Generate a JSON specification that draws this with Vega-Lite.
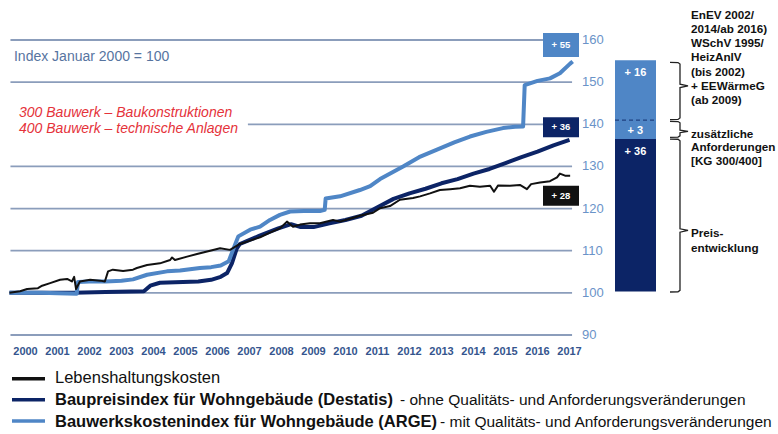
{
  "$schema": "https://vega.github.io/schema/vega-lite/v6.json",
  "width": 778,
  "height": 434,
  "autosize": {"type": "none"},
  "padding": 0,
  "background": "white",
  "config": {"view": {"stroke": null}, "font": "Liberation Sans"},
  "datasets": {
    "series": [
      {"s": "Baupreisindex", "year": 2000.0, "value": 100.0},
      {"s": "Baupreisindex", "year": 2001.0, "value": 100.0},
      {"s": "Baupreisindex", "year": 2002.0, "value": 100.0},
      {"s": "Baupreisindex", "year": 2003.0, "value": 100.2},
      {"s": "Baupreisindex", "year": 2004.2, "value": 100.4},
      {"s": "Baupreisindex", "year": 2004.4, "value": 101.7},
      {"s": "Baupreisindex", "year": 2004.7, "value": 102.4},
      {"s": "Baupreisindex", "year": 2005.9, "value": 102.7},
      {"s": "Baupreisindex", "year": 2006.3, "value": 103.1},
      {"s": "Baupreisindex", "year": 2006.6, "value": 103.8},
      {"s": "Baupreisindex", "year": 2006.8, "value": 104.7},
      {"s": "Baupreisindex", "year": 2006.95, "value": 107.0},
      {"s": "Baupreisindex", "year": 2007.1, "value": 110.5},
      {"s": "Baupreisindex", "year": 2007.2, "value": 111.6},
      {"s": "Baupreisindex", "year": 2007.8, "value": 113.5},
      {"s": "Baupreisindex", "year": 2008.4, "value": 115.3},
      {"s": "Baupreisindex", "year": 2008.8, "value": 116.3},
      {"s": "Baupreisindex", "year": 2009.1, "value": 115.6},
      {"s": "Baupreisindex", "year": 2009.5, "value": 115.6},
      {"s": "Baupreisindex", "year": 2010.0, "value": 116.5},
      {"s": "Baupreisindex", "year": 2010.5, "value": 117.3},
      {"s": "Baupreisindex", "year": 2011.0, "value": 118.3},
      {"s": "Baupreisindex", "year": 2011.5, "value": 120.3},
      {"s": "Baupreisindex", "year": 2012.0, "value": 122.3},
      {"s": "Baupreisindex", "year": 2012.5, "value": 123.6},
      {"s": "Baupreisindex", "year": 2013.0, "value": 124.7},
      {"s": "Baupreisindex", "year": 2013.5, "value": 126.0},
      {"s": "Baupreisindex", "year": 2014.0, "value": 127.0},
      {"s": "Baupreisindex", "year": 2014.5, "value": 128.3},
      {"s": "Baupreisindex", "year": 2015.0, "value": 129.4},
      {"s": "Baupreisindex", "year": 2015.5, "value": 130.8},
      {"s": "Baupreisindex", "year": 2016.0, "value": 132.2},
      {"s": "Baupreisindex", "year": 2016.5, "value": 133.5},
      {"s": "Baupreisindex", "year": 2017.0, "value": 135.0},
      {"s": "Baupreisindex", "year": 2017.5, "value": 136.3},
      {"s": "Bauwerkskostenindex", "year": 2000.0, "value": 100.0},
      {"s": "Bauwerkskostenindex", "year": 2001.0, "value": 100.0},
      {"s": "Bauwerkskostenindex", "year": 2001.5, "value": 99.9},
      {"s": "Bauwerkskostenindex", "year": 2002.1, "value": 99.8},
      {"s": "Bauwerkskostenindex", "year": 2002.14, "value": 102.6},
      {"s": "Bauwerkskostenindex", "year": 2002.5, "value": 102.7},
      {"s": "Bauwerkskostenindex", "year": 2003.0, "value": 102.7},
      {"s": "Bauwerkskostenindex", "year": 2003.5, "value": 102.9},
      {"s": "Bauwerkskostenindex", "year": 2003.86, "value": 103.2},
      {"s": "Bauwerkskostenindex", "year": 2004.3, "value": 104.3},
      {"s": "Bauwerkskostenindex", "year": 2004.92, "value": 105.1},
      {"s": "Bauwerkskostenindex", "year": 2005.33, "value": 105.3},
      {"s": "Bauwerkskostenindex", "year": 2005.95, "value": 105.9},
      {"s": "Bauwerkskostenindex", "year": 2006.3, "value": 106.1},
      {"s": "Bauwerkskostenindex", "year": 2006.6, "value": 106.5},
      {"s": "Bauwerkskostenindex", "year": 2006.85, "value": 107.5},
      {"s": "Bauwerkskostenindex", "year": 2007.0, "value": 110.5},
      {"s": "Bauwerkskostenindex", "year": 2007.15, "value": 113.4},
      {"s": "Bauwerkskostenindex", "year": 2007.52, "value": 115.0},
      {"s": "Bauwerkskostenindex", "year": 2007.83, "value": 115.7},
      {"s": "Bauwerkskostenindex", "year": 2008.14, "value": 117.3},
      {"s": "Bauwerkskostenindex", "year": 2008.45, "value": 118.5},
      {"s": "Bauwerkskostenindex", "year": 2008.77, "value": 119.3},
      {"s": "Bauwerkskostenindex", "year": 2009.2, "value": 119.4},
      {"s": "Bauwerkskostenindex", "year": 2009.7, "value": 119.4},
      {"s": "Bauwerkskostenindex", "year": 2009.85, "value": 119.7},
      {"s": "Bauwerkskostenindex", "year": 2009.88, "value": 122.4},
      {"s": "Bauwerkskostenindex", "year": 2010.33, "value": 122.9},
      {"s": "Bauwerkskostenindex", "year": 2010.95, "value": 124.4},
      {"s": "Bauwerkskostenindex", "year": 2011.27, "value": 125.3},
      {"s": "Bauwerkskostenindex", "year": 2011.58, "value": 127.0},
      {"s": "Bauwerkskostenindex", "year": 2012.3, "value": 130.0},
      {"s": "Bauwerkskostenindex", "year": 2012.8, "value": 132.2},
      {"s": "Bauwerkskostenindex", "year": 2013.36, "value": 134.0},
      {"s": "Bauwerkskostenindex", "year": 2013.9, "value": 135.7},
      {"s": "Bauwerkskostenindex", "year": 2014.39, "value": 137.1},
      {"s": "Bauwerkskostenindex", "year": 2014.9, "value": 138.2},
      {"s": "Bauwerkskostenindex", "year": 2015.42, "value": 139.1},
      {"s": "Bauwerkskostenindex", "year": 2015.8, "value": 139.4},
      {"s": "Bauwerkskostenindex", "year": 2016.05, "value": 139.5},
      {"s": "Bauwerkskostenindex", "year": 2016.1, "value": 149.3},
      {"s": "Bauwerkskostenindex", "year": 2016.5, "value": 150.3},
      {"s": "Bauwerkskostenindex", "year": 2016.89, "value": 150.9},
      {"s": "Bauwerkskostenindex", "year": 2017.2, "value": 152.1},
      {"s": "Bauwerkskostenindex", "year": 2017.52, "value": 154.4},
      {"s": "Bauwerkskostenindex", "year": 2017.6, "value": 154.9},
      {"s": "Lebenshaltungskosten", "year": 2000.0, "value": 100.0},
      {"s": "Lebenshaltungskosten", "year": 2000.33, "value": 100.4},
      {"s": "Lebenshaltungskosten", "year": 2000.55, "value": 100.9},
      {"s": "Lebenshaltungskosten", "year": 2000.89, "value": 101.1},
      {"s": "Lebenshaltungskosten", "year": 2001.02, "value": 101.7},
      {"s": "Lebenshaltungskosten", "year": 2001.27, "value": 102.3},
      {"s": "Lebenshaltungskosten", "year": 2001.58, "value": 103.1},
      {"s": "Lebenshaltungskosten", "year": 2001.8, "value": 103.3},
      {"s": "Lebenshaltungskosten", "year": 2001.95, "value": 102.7},
      {"s": "Lebenshaltungskosten", "year": 2002.02, "value": 103.8},
      {"s": "Lebenshaltungskosten", "year": 2002.08, "value": 100.9},
      {"s": "Lebenshaltungskosten", "year": 2002.2, "value": 102.7},
      {"s": "Lebenshaltungskosten", "year": 2002.52, "value": 103.1},
      {"s": "Lebenshaltungskosten", "year": 2002.83, "value": 102.9},
      {"s": "Lebenshaltungskosten", "year": 2002.98, "value": 102.7},
      {"s": "Lebenshaltungskosten", "year": 2003.08, "value": 105.1},
      {"s": "Lebenshaltungskosten", "year": 2003.23, "value": 105.5},
      {"s": "Lebenshaltungskosten", "year": 2003.55, "value": 105.2},
      {"s": "Lebenshaltungskosten", "year": 2003.86, "value": 105.5},
      {"s": "Lebenshaltungskosten", "year": 2003.98, "value": 105.9},
      {"s": "Lebenshaltungskosten", "year": 2004.3, "value": 106.6},
      {"s": "Lebenshaltungskosten", "year": 2004.7, "value": 107.0},
      {"s": "Lebenshaltungskosten", "year": 2005.02, "value": 107.8},
      {"s": "Lebenshaltungskosten", "year": 2005.08, "value": 108.4},
      {"s": "Lebenshaltungskosten", "year": 2005.17, "value": 107.8},
      {"s": "Lebenshaltungskosten", "year": 2005.55, "value": 108.6},
      {"s": "Lebenshaltungskosten", "year": 2005.86, "value": 109.2},
      {"s": "Lebenshaltungskosten", "year": 2006.27, "value": 110.0},
      {"s": "Lebenshaltungskosten", "year": 2006.58, "value": 110.6},
      {"s": "Lebenshaltungskosten", "year": 2006.89, "value": 110.2},
      {"s": "Lebenshaltungskosten", "year": 2007.2, "value": 111.6},
      {"s": "Lebenshaltungskosten", "year": 2007.52, "value": 112.4},
      {"s": "Lebenshaltungskosten", "year": 2007.83, "value": 113.2},
      {"s": "Lebenshaltungskosten", "year": 2008.14, "value": 114.3},
      {"s": "Lebenshaltungskosten", "year": 2008.45, "value": 115.3},
      {"s": "Lebenshaltungskosten", "year": 2008.67, "value": 116.9},
      {"s": "Lebenshaltungskosten", "year": 2008.86, "value": 115.7},
      {"s": "Lebenshaltungskosten", "year": 2009.08, "value": 116.2},
      {"s": "Lebenshaltungskosten", "year": 2009.39, "value": 116.5},
      {"s": "Lebenshaltungskosten", "year": 2009.7, "value": 116.5},
      {"s": "Lebenshaltungskosten", "year": 2010.11, "value": 117.3},
      {"s": "Lebenshaltungskosten", "year": 2010.33, "value": 116.9},
      {"s": "Lebenshaltungskosten", "year": 2010.64, "value": 117.6},
      {"s": "Lebenshaltungskosten", "year": 2010.95, "value": 118.3},
      {"s": "Lebenshaltungskosten", "year": 2011.36, "value": 119.0},
      {"s": "Lebenshaltungskosten", "year": 2011.58, "value": 120.1},
      {"s": "Lebenshaltungskosten", "year": 2011.89, "value": 120.6},
      {"s": "Lebenshaltungskosten", "year": 2012.2, "value": 122.1},
      {"s": "Lebenshaltungskosten", "year": 2012.61, "value": 122.5},
      {"s": "Lebenshaltungskosten", "year": 2012.83, "value": 122.9},
      {"s": "Lebenshaltungskosten", "year": 2013.14, "value": 123.6},
      {"s": "Lebenshaltungskosten", "year": 2013.45, "value": 124.4},
      {"s": "Lebenshaltungskosten", "year": 2013.77, "value": 124.6},
      {"s": "Lebenshaltungskosten", "year": 2014.08, "value": 124.8},
      {"s": "Lebenshaltungskosten", "year": 2014.39, "value": 125.4},
      {"s": "Lebenshaltungskosten", "year": 2014.7, "value": 125.2},
      {"s": "Lebenshaltungskosten", "year": 2015.02, "value": 125.4},
      {"s": "Lebenshaltungskosten", "year": 2015.14, "value": 124.0},
      {"s": "Lebenshaltungskosten", "year": 2015.27, "value": 125.5},
      {"s": "Lebenshaltungskosten", "year": 2015.64, "value": 125.4},
      {"s": "Lebenshaltungskosten", "year": 2015.95, "value": 125.6},
      {"s": "Lebenshaltungskosten", "year": 2016.17, "value": 124.6},
      {"s": "Lebenshaltungskosten", "year": 2016.3, "value": 125.8},
      {"s": "Lebenshaltungskosten", "year": 2016.58, "value": 126.2},
      {"s": "Lebenshaltungskosten", "year": 2016.89, "value": 126.5},
      {"s": "Lebenshaltungskosten", "year": 2017.11, "value": 127.4},
      {"s": "Lebenshaltungskosten", "year": 2017.2, "value": 128.3},
      {"s": "Lebenshaltungskosten", "year": 2017.36, "value": 127.8},
      {"s": "Lebenshaltungskosten", "year": 2017.52, "value": 127.8}
    ],
    "grid": [
      {"value": 90, "year": 2000.03, "year2": 2017.58}, {"value": 100, "year": 2000.03, "year2": 2017.58},
      {"value": 110, "year": 2000.03, "year2": 2017.58}, {"value": 120, "year": 2000.03, "year2": 2017.58},
      {"value": 130, "year": 2000.03, "year2": 2017.58}, {"value": 140, "year": 2007.45, "year2": 2017.58},
      {"value": 150, "year": 2000.03, "year2": 2017.58}, {"value": 160, "year": 2000.03, "year2": 2017.58}
    ],
    "ylabels": [
      {"label": "90", "value": 90, "year": 2017.891}, {"label": "100", "value": 100, "year": 2017.891},
      {"label": "110", "value": 110, "year": 2017.891}, {"label": "120", "value": 120, "year": 2017.891},
      {"label": "130", "value": 130, "year": 2017.891}, {"label": "140", "value": 140, "year": 2017.891},
      {"label": "150", "value": 150, "year": 2017.891}, {"label": "160", "value": 160, "year": 2017.891}
    ],
    "xlabels": [
      {"label": "2000", "year": 2000.5, "value": 86.0}, {"label": "2001", "year": 2001.5, "value": 86.0},
      {"label": "2002", "year": 2002.5, "value": 86.0}, {"label": "2003", "year": 2003.5, "value": 86.0},
      {"label": "2004", "year": 2004.5, "value": 86.0}, {"label": "2005", "year": 2005.5, "value": 86.0},
      {"label": "2006", "year": 2006.5, "value": 86.0}, {"label": "2007", "year": 2007.5, "value": 86.0},
      {"label": "2008", "year": 2008.5, "value": 86.0}, {"label": "2009", "year": 2009.5, "value": 86.0},
      {"label": "2010", "year": 2010.5, "value": 86.0}, {"label": "2011", "year": 2011.5, "value": 86.0},
      {"label": "2012", "year": 2012.5, "value": 86.0}, {"label": "2013", "year": 2013.5, "value": 86.0},
      {"label": "2014", "year": 2014.5, "value": 86.0}, {"label": "2015", "year": 2015.5, "value": 86.0},
      {"label": "2016", "year": 2016.5, "value": 86.0}, {"label": "2017", "year": 2017.5, "value": 86.0}
    ],
    "boxes": [
      {"s": "Bauwerkskostenindex", "year": 2016.672, "year2": 2017.797, "value": 155.97, "value2": 161.66},
      {"s": "Baupreisindex", "year": 2016.672, "year2": 2017.797, "value": 136.92, "value2": 141.66},
      {"s": "Lebenshaltungskosten", "year": 2016.672, "year2": 2017.797, "value": 120.65, "value2": 125.39}
    ],
    "boxlabels": [
      {"label": "+ 55", "year": 2017.234, "value": 158.8},
      {"label": "+ 36", "year": 2017.234, "value": 139.3},
      {"label": "+ 28", "year": 2017.234, "value": 123.0}
    ],
    "bar": [
      {"s": "Baupreisindex", "year": 2018.922, "year2": 2020.203, "value": 100.3, "value2": 136.5},
      {"s": "Bauwerkskostenindex", "year": 2018.922, "year2": 2020.203, "value": 136.5, "value2": 155.2}
    ],
    "bardash": [
      {"year": 2018.922, "year2": 2020.203, "value": 141.0}
    ],
    "barlabels": [
      {"label": "+ 16", "year": 2019.56, "value": 152.2},
      {"label": "+ 3", "year": 2019.56, "value": 138.4},
      {"label": "+ 36", "year": 2019.56, "value": 133.5}
    ],
    "braces": [
      {"b": 1, "o": 1, "year": 2020.641, "value": 154.7},
      {"b": 1, "o": 2, "year": 2020.891, "value": 154.65},
      {"b": 1, "o": 3, "year": 2020.953, "value": 154.3},
      {"b": 1, "o": 4, "year": 2020.953, "value": 149.5},
      {"b": 1, "o": 5, "year": 2021.203, "value": 149.1},
      {"b": 1, "o": 6, "year": 2020.953, "value": 148.7},
      {"b": 1, "o": 7, "year": 2020.953, "value": 141.5},
      {"b": 1, "o": 8, "year": 2020.891, "value": 141.15},
      {"b": 1, "o": 9, "year": 2020.641, "value": 141.1},
      {"b": 2, "o": 1, "year": 2020.641, "value": 140.7},
      {"b": 2, "o": 2, "year": 2020.891, "value": 140.65},
      {"b": 2, "o": 3, "year": 2020.953, "value": 140.35},
      {"b": 2, "o": 4, "year": 2020.953, "value": 138.6},
      {"b": 2, "o": 5, "year": 2021.203, "value": 138.3},
      {"b": 2, "o": 6, "year": 2020.953, "value": 138.0},
      {"b": 2, "o": 7, "year": 2020.953, "value": 137.25},
      {"b": 2, "o": 8, "year": 2020.891, "value": 136.95},
      {"b": 2, "o": 9, "year": 2020.641, "value": 136.9},
      {"b": 3, "o": 1, "year": 2020.641, "value": 136.5},
      {"b": 3, "o": 2, "year": 2020.891, "value": 136.45},
      {"b": 3, "o": 3, "year": 2020.953, "value": 136.1},
      {"b": 3, "o": 4, "year": 2020.953, "value": 115.2},
      {"b": 3, "o": 5, "year": 2021.203, "value": 114.8},
      {"b": 3, "o": 6, "year": 2020.953, "value": 114.4},
      {"b": 3, "o": 7, "year": 2020.953, "value": 100.6},
      {"b": 3, "o": 8, "year": 2020.891, "value": 100.25},
      {"b": 3, "o": 9, "year": 2020.641, "value": 100.2}
    ],
    "righttext": [
      {"label": "EnEV 2002/", "year": 2021.297, "value": 165.97},
      {"label": "2014/ab 2016)", "year": 2021.297, "value": 162.6},
      {"label": "WSchV 1995/", "year": 2021.297, "value": 159.23},
      {"label": "HeizAnlV", "year": 2021.297, "value": 155.86},
      {"label": "(bis 2002)", "year": 2021.297, "value": 152.49},
      {"label": "+ EEWärmeG", "year": 2021.297, "value": 149.12},
      {"label": "(ab 2009)", "year": 2021.297, "value": 145.75},
      {"label": "zusätzliche", "year": 2021.297, "value": 137.73},
      {"label": "Anforderungen", "year": 2021.297, "value": 134.53},
      {"label": "[KG 300/400]", "year": 2021.297, "value": 131.32},
      {"label": "Preis-", "year": 2021.297, "value": 114.31},
      {"label": "entwicklung", "year": 2021.297, "value": 110.61}
    ],
    "indextext": [
      {"label": "Index Januar 2000 = 100", "year": 2000.14, "value": 156.0}
    ],
    "redtext": [
      {"label": "300 Bauwerk – Baukonstruktionen", "year": 2000.297, "value": 142.71},
      {"label": "400 Bauwerk – technische Anlagen", "year": 2000.297, "value": 138.92}
    ],
    "legendlines": [
      {"s": "Lebenshaltungskosten", "year": 2000.078, "year2": 2001.109, "value": 79.6},
      {"s": "Baupreisindex", "year": 2000.078, "year2": 2001.109, "value": 74.61},
      {"s": "Bauwerkskostenindex", "year": 2000.078, "year2": 2001.109, "value": 69.6}
    ],
    "legendnormal": [
      {"label": "Lebenshaltungskosten", "year": 2001.422, "value": 79.83}
    ],
    "legendbold": [
      {"label": "Baupreisindex für Wohngebäude (Destatis)", "year": 2001.422, "value": 74.61},
      {"label": "Bauwerkskostenindex für Wohngebäude (ARGE)", "year": 2001.422, "value": 69.39}
    ],
    "legendsuffix": [
      {"label": "- ohne Qualitäts- und Anforderungsveränderungen", "year": 2012.203, "value": 74.61},
      {"label": "- mit Qualitäts- und Anforderungsveränderungen", "year": 2013.453, "value": 69.39}
    ]
  },
  "encoding": {
    "x": {"field": "year", "type": "quantitative", "scale": {"domain": [1999.7031, 2024.0156], "nice": false, "zero": false}, "axis": null},
    "y": {"field": "value", "type": "quantitative", "scale": {"domain": [66.51, 169.49], "nice": false, "zero": false}, "axis": null}
  },
  "layer": [
    {
      "data": {"name": "grid"},
      "mark": {"type": "rule", "color": "#8b9dbb", "strokeWidth": 1.8},
      "encoding": {"x2": {"field": "year2"}}
    },
    {
      "data": {"name": "ylabels"},
      "mark": {"type": "text", "align": "left", "baseline": "middle", "fontSize": 13, "color": "#6a93c8"},
      "encoding": {"text": {"field": "label"}}
    },
    {
      "data": {"name": "xlabels"},
      "mark": {"type": "text", "align": "center", "baseline": "middle", "fontSize": 11, "fontWeight": "bold", "color": "#35558e"},
      "encoding": {"text": {"field": "label"}}
    },
    {
      "data": {"name": "series"},
      "transform": [{"filter": "datum.s == 'Baupreisindex'"}],
      "mark": {"type": "line", "strokeWidth": 4, "strokeJoin": "round"},
      "encoding": {"color": {"field": "s", "type": "nominal", "scale": {"domain": ["Lebenshaltungskosten", "Baupreisindex", "Bauwerkskostenindex"], "range": ["#111111", "#0c2466", "#4f86c6"]}, "legend": null}}
    },
    {
      "data": {"name": "series"},
      "transform": [{"filter": "datum.s == 'Bauwerkskostenindex'"}],
      "mark": {"type": "line", "strokeWidth": 4, "strokeJoin": "round"},
      "encoding": {"color": {"field": "s", "type": "nominal", "legend": null}}
    },
    {
      "data": {"name": "series"},
      "transform": [{"filter": "datum.s == 'Lebenshaltungskosten'"}],
      "mark": {"type": "line", "strokeWidth": 2, "strokeJoin": "round"},
      "encoding": {"color": {"field": "s", "type": "nominal", "legend": null}}
    },
    {
      "data": {"name": "boxes"},
      "mark": {"type": "rect"},
      "encoding": {"x2": {"field": "year2"}, "y2": {"field": "value2"}, "color": {"field": "s", "type": "nominal", "legend": null}}
    },
    {
      "data": {"name": "boxlabels"},
      "mark": {"type": "text", "align": "center", "baseline": "middle", "fontSize": 9.5, "fontWeight": "bold", "color": "white"},
      "encoding": {"text": {"field": "label"}}
    },
    {
      "data": {"name": "bar"},
      "mark": {"type": "rect"},
      "encoding": {"x2": {"field": "year2"}, "y2": {"field": "value2"}, "color": {"field": "s", "type": "nominal", "legend": null}}
    },
    {
      "data": {"name": "bardash"},
      "mark": {"type": "rule", "color": "#1f4080", "strokeWidth": 1.3, "strokeDash": [4, 3]},
      "encoding": {"x2": {"field": "year2"}}
    },
    {
      "data": {"name": "barlabels"},
      "mark": {"type": "text", "align": "center", "baseline": "middle", "fontSize": 11, "fontWeight": "bold", "color": "white"},
      "encoding": {"text": {"field": "label"}}
    },
    {
      "data": {"name": "braces"},
      "mark": {"type": "line", "color": "#222222", "strokeWidth": 1.3},
      "encoding": {"detail": {"field": "b"}, "order": {"field": "o", "type": "quantitative"}}
    },
    {
      "data": {"name": "righttext"},
      "mark": {"type": "text", "align": "left", "baseline": "middle", "fontSize": 11.7, "fontWeight": "bold", "color": "#111111"},
      "encoding": {"text": {"field": "label"}}
    },
    {
      "data": {"name": "indextext"},
      "mark": {"type": "text", "align": "left", "baseline": "middle", "fontSize": 14, "color": "#57749f"},
      "encoding": {"text": {"field": "label"}}
    },
    {
      "data": {"name": "redtext"},
      "mark": {"type": "text", "align": "left", "baseline": "middle", "fontSize": 14, "fontStyle": "italic", "color": "#e5323a"},
      "encoding": {"text": {"field": "label"}}
    },
    {
      "data": {"name": "legendlines"},
      "mark": {"type": "rule", "strokeWidth": 3.5},
      "encoding": {"x2": {"field": "year2"}, "color": {"field": "s", "type": "nominal", "legend": null}}
    },
    {
      "data": {"name": "legendnormal"},
      "mark": {"type": "text", "align": "left", "baseline": "middle", "fontSize": 16.5, "color": "#111111"},
      "encoding": {"text": {"field": "label"}}
    },
    {
      "data": {"name": "legendbold"},
      "mark": {"type": "text", "align": "left", "baseline": "middle", "fontSize": 16.5, "fontWeight": "bold", "color": "#111111"},
      "encoding": {"text": {"field": "label"}}
    },
    {
      "data": {"name": "legendsuffix"},
      "mark": {"type": "text", "align": "left", "baseline": "middle", "fontSize": 15.5, "color": "#111111"},
      "encoding": {"text": {"field": "label"}}
    }
  ]
}
